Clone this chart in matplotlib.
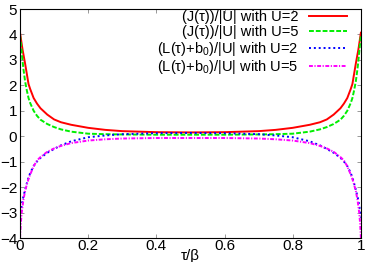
import matplotlib
matplotlib.use("Agg")
import matplotlib.pyplot as plt
from matplotlib.ticker import FuncFormatter

plt.rcParams['font.family'] = ['Liberation Sans', 'DejaVu Sans']
plt.rcParams['mathtext.fontset'] = 'custom'
plt.rcParams['mathtext.rm'] = 'Liberation Sans'

# tau/beta sample points (denser near the ends)
tau = [0, 0.0025, 0.005, 0.0075, 0.01, 0.015, 0.02, 0.025, 0.03, 0.04, 0.05,
       0.06, 0.08, 0.1, 0.12, 0.15, 0.2, 0.25, 0.3, 0.4, 0.5,
       0.6, 0.7, 0.75, 0.8, 0.85, 0.88, 0.9, 0.92, 0.94, 0.95,
       0.96, 0.97, 0.975, 0.98, 0.985, 0.99, 0.9925, 0.995, 0.9975, 1.0]

j_u2 = [4.07, 3.85, 3.62, 3.4, 3.22, 2.85, 2.45, 2.05, 1.85, 1.5, 1.28,
        1.1, 0.85, 0.66, 0.55, 0.45, 0.33, 0.25, 0.2, 0.16, 0.15,
        0.16, 0.2, 0.25, 0.33, 0.45, 0.55, 0.66, 0.85, 1.1, 1.28,
        1.5, 1.85, 2.05, 2.45, 2.85, 3.22, 3.4, 3.62, 3.85, 4.07]
j_u5 = [3.98, 3.65, 3.3, 2.95, 2.65, 2.15, 1.8, 1.5, 1.3, 1.0, 0.8,
        0.65, 0.48, 0.36, 0.27, 0.18, 0.1, 0.08, 0.07, 0.06, 0.06,
        0.06, 0.07, 0.08, 0.1, 0.18, 0.27, 0.36, 0.48, 0.65, 0.8,
        1.0, 1.3, 1.5, 1.8, 2.15, 2.65, 2.95, 3.3, 3.65, 3.98]
l_u2 = [-3.2, -2.95, -2.72, -2.52, -2.37, -2.1, -1.85, -1.62, -1.44, -1.17, -0.99,
        -0.85, -0.65, -0.5, -0.36, -0.2, -0.04, 0.03, 0.08, 0.12, 0.13,
        0.12, 0.08, 0.03, -0.04, -0.2, -0.36, -0.5, -0.65, -0.85, -0.99,
        -1.17, -1.44, -1.62, -1.85, -2.1, -2.37, -2.52, -2.72, -2.95, -3.2]
l_u5 = [-4.0, -3.4, -3.0, -2.75, -2.5, -2.15, -1.9, -1.68, -1.5, -1.18, -0.95,
        -0.82, -0.61, -0.48, -0.38, -0.27, -0.17, -0.12, -0.09, -0.07, -0.07,
        -0.07, -0.09, -0.12, -0.17, -0.27, -0.38, -0.48, -0.61, -0.82, -0.95,
        -1.18, -1.5, -1.68, -1.9, -2.15, -2.5, -2.75, -3.0, -3.4, -4.0]

labels = ['(J(τ))/|U| with U=2',
          '(J(τ))/|U| with U=5',
          '(L(τ)+b$_0$)/|U| with U=2',
          '(L(τ)+b$_0$)/|U| with U=5']

xticks = [0, 0.2, 0.4, 0.6, 0.8, 1]
yticks = [-4, -3, -2, -1, 0, 1, 2, 3, 4, 5]

fig = plt.figure(figsize=(3.74, 2.62), dpi=100)
ax = fig.add_axes([0.0535, 0.0916, 0.9115, 0.874])

ax.plot(tau, j_u2, color='#ff0000', lw=1.4, ls='-', label=labels[0])
ax.plot(tau, j_u5, color='#00ee00', lw=1.4, ls=(0, (2.5, 1)), label=labels[1])
ax.plot(tau, l_u2, color='#0000ff', lw=1.4, ls=(0, (1, 1.5)), label=labels[2])
ax.plot(tau, l_u5, color='#ff00ff', lw=1.4, ls=(0, (2, 0.8, 0.6, 0.8)), label=labels[3])

ax.set_xlim(0, 1)
ax.set_ylim(-4, 5)
ax.set_xticks(xticks)
ax.set_yticks(yticks)
ax.xaxis.set_major_formatter(FuncFormatter(lambda v, p: '%g' % v))
ax.tick_params(direction='in', top=True, right=True, length=3, width=0.6,
               labelsize=11, color='#888888')
ax.tick_params(axis='x', pad=1)
ax.tick_params(axis='y', pad=2)
for s in ax.spines.values():
    s.set_linewidth(0.8)
ax.set_xlabel('τ/β', fontsize=11, labelpad=-3)

leg = ax.legend(loc='upper right', frameon=False, markerfirst=False, fontsize=10.5,
                handlelength=2.6, handletextpad=0.7, labelspacing=0.05,
                borderpad=0, borderaxespad=0, bbox_to_anchor=(0.958, 0.995))
for col in leg._legend_box._children[-1]._children:
    col.align = 'right'

fig.savefig('out.png', dpi=100)
